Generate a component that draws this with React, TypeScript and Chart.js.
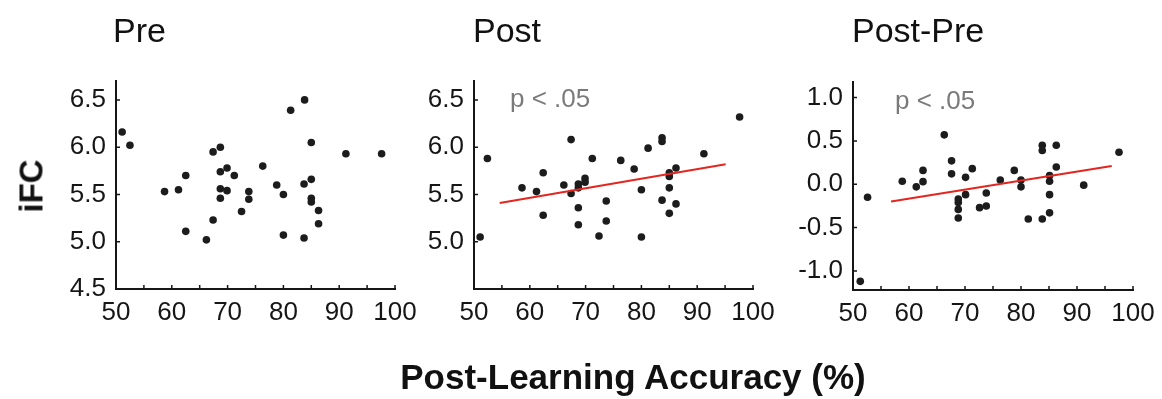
import React, { useEffect, useRef } from "react";
import { Chart, registerables } from "chart.js";

Chart.register(...registerables);

// ---- data ----
const preAccuracy = [51.1, 52.5, 58.7, 61.2, 62.5, 62.5, 66.2, 67.4, 67.4, 68.7, 68.7, 68.7, 68.7, 69.9, 69.9, 71.2, 72.5, 73.8, 73.8, 76.3, 78.8, 80.0, 80.0, 81.3, 83.8, 83.7, 83.7, 85.0, 85.0, 85.0, 85.0, 86.3, 86.3, 91.2, 97.6];
const preIFC = [6.16, 6.02, 5.53, 5.55, 5.70, 5.11, 5.02, 5.95, 5.23, 6.0, 5.74, 5.56, 5.46, 5.78, 5.54, 5.70, 5.32, 5.53, 5.45, 5.80, 5.60, 5.50, 5.07, 6.39, 6.50, 5.61, 5.04, 6.05, 5.66, 5.46, 5.42, 5.33, 5.19, 5.93, 5.93];

const postAccuracy = [51.1, 52.4, 58.6, 61.2, 62.4, 62.4, 66.1, 67.4, 67.4, 68.7, 68.7, 68.7, 68.7, 69.9, 69.9, 71.2, 72.4, 73.7, 73.7, 76.3, 78.7, 80.0, 80.0, 81.2, 83.7, 83.7, 83.7, 85.0, 85.0, 85.0, 85.0, 86.2, 86.2, 91.2, 97.6];
const postIFC = [5.05, 5.88, 5.57, 5.53, 5.73, 5.28, 5.60, 6.08, 5.51, 5.61, 5.57, 5.36, 5.18, 5.67, 5.63, 5.88, 5.06, 5.43, 5.22, 5.86, 5.77, 5.55, 5.05, 5.99, 6.10, 6.06, 5.44, 5.73, 5.69, 5.57, 5.30, 5.78, 5.40, 5.93, 6.32];

const diffAccuracy = [51.3, 52.6, 58.8, 61.3, 62.5, 62.5, 66.3, 67.6, 67.6, 68.8, 68.8, 68.8, 68.8, 70.1, 70.1, 71.3, 72.6, 73.8, 73.8, 76.3, 78.8, 80.0, 80.0, 81.3, 83.8, 83.8, 83.8, 85.1, 85.1, 85.1, 85.1, 86.3, 86.3, 91.2, 97.5];
const diffIFC = [-1.12, -0.15, 0.035, -0.03, 0.16, 0.03, 0.57, 0.27, 0.12, -0.17, -0.21, -0.29, -0.39, 0.08, -0.12, 0.18, -0.27, -0.10, -0.25, 0.05, 0.16, 0.05, -0.03, -0.40, 0.45, 0.39, -0.40, 0.10, 0.035, -0.12, -0.33, 0.45, 0.20, -0.01, 0.37];

const postFitX = [54.6, 95.1];
const postFitY = [5.41, 5.82];
const diffFitX = [56.8, 96.2];
const diffFitY = [-0.2, 0.21];

const xTickMarks = [50, 55, 60, 65, 70, 75, 80, 85, 90, 95, 100];
const xTickLabels = ["50", "60", "70", "80", "90", "100"];
const preYTicks = [4.5, 5.0, 5.5, 6.0, 6.5];
const postYTicks = [5.0, 5.5, 6.0, 6.5];
const diffYTicks = [-1.0, -0.5, 0.0, 0.5, 1.0];

const panelTitles = ["Pre", "Post", "Post-Pre"];
const pValueText = "p < .05";
const yAxisTitle = "iFC";
const xAxisTitle = "Post-Learning Accuracy (%)";

// ---- layout / style ----
const W = 1162;
const H = 399;
const Y_AXIS_W = 70;
const X_AXIS_H = 50;
const FONT = "'Liberation Sans', Arial, Helvetica, sans-serif";
const INK = "#161616";

type Area = { left: number; right: number; top: number; bottom: number };

const toPoints = (xs: number[], ys: number[]) => xs.map((x, i) => ({ x, y: ys[i] }));

const inwardTicks = {
  id: "inwardTicks",
  afterDatasetsDraw(chart: any) {
    const { ctx, chartArea, scales } = chart;
    ctx.save();
    ctx.strokeStyle = INK;
    ctx.lineWidth = 1.5;
    ctx.beginPath();
    scales.x.ticks.forEach((t: any) => {
      const px = scales.x.getPixelForValue(t.value);
      ctx.moveTo(px, chartArea.bottom);
      ctx.lineTo(px, chartArea.bottom - 4);
    });
    scales.y.ticks.forEach((t: any) => {
      const py = scales.y.getPixelForValue(t.value);
      ctx.moveTo(chartArea.left, py);
      ctx.lineTo(chartArea.left + 4, py);
    });
    ctx.stroke();
    ctx.restore();
  },
};

function buildConfig(
  area: Area,
  xs: number[],
  ys: number[],
  yTicks: number[],
  yMin: number,
  yMax: number,
  fitX: number[] | null,
  fitY: number[] | null
): any {
  const datasets: any[] = [
    {
      type: "scatter",
      data: toPoints(xs, ys),
      pointRadius: 3.8,
      pointBackgroundColor: "#1c1c1c",
      pointBorderWidth: 0,
      clip: false,
      order: 1,
    },
  ];
  if (fitX && fitY) {
    datasets.push({
      type: "line",
      data: toPoints(fitX, fitY),
      borderColor: "#e3261f",
      borderWidth: 2,
      pointRadius: 0,
      fill: false,
      order: 0,
    });
  }
  return {
    type: "scatter",
    data: { datasets },
    plugins: [inwardTicks],
    options: {
      responsive: false,
      animation: false,
      devicePixelRatio: 1,
      layout: {
        padding: {
          left: area.left - Y_AXIS_W,
          right: W - area.right,
          top: area.top,
          bottom: H - area.bottom - X_AXIS_H,
        },
      },
      plugins: { legend: { display: false }, tooltip: { enabled: false }, title: { display: false } },
      scales: {
        x: {
          type: "linear",
          min: 50,
          max: 100,
          grid: { drawOnChartArea: false, drawTicks: false },
          border: { display: true, color: INK, width: 2 },
          afterBuildTicks: (scale: any) => {
            scale.ticks = xTickMarks.map((v) => ({ value: v }));
          },
          afterFit: (scale: any) => {
            scale.height = X_AXIS_H;
            scale.paddingLeft = 0;
            scale.paddingRight = 0;
          },
          ticks: {
            autoSkip: false,
            maxRotation: 0,
            padding: 8,
            color: INK,
            font: { family: FONT, size: 26 },
            callback: (v: any) => (xTickLabels.includes(String(v)) ? String(v) : ""),
          },
        },
        y: {
          type: "linear",
          min: yMin,
          max: yMax,
          grid: { drawOnChartArea: false, drawTicks: false },
          border: { display: true, color: INK, width: 2 },
          afterBuildTicks: (scale: any) => {
            scale.ticks = yTicks.map((v) => ({ value: v }));
          },
          afterFit: (scale: any) => {
            scale.width = Y_AXIS_W;
            scale.paddingTop = 0;
            scale.paddingBottom = 0;
          },
          ticks: {
            autoSkip: false,
            padding: 10,
            color: INK,
            font: { family: FONT, size: 26 },
            callback: (v: any) => Number(v).toFixed(1),
          },
        },
      },
    },
  };
}

const PANEL_AREAS: Area[] = [
  { left: 116, right: 395, top: 81, bottom: 289 },
  { left: 474, right: 753, top: 81, bottom: 289 },
  { left: 853, right: 1133, top: 82, bottom: 290 },
];

function PanelCanvas({ config }: { config: any }) {
  const ref = useRef<HTMLCanvasElement | null>(null);
  useEffect(() => {
    if (!ref.current) return;
    const chart = new Chart(ref.current, config);
    return () => chart.destroy();
  }, [config]);
  return (
    <canvas
      ref={ref}
      width={W}
      height={H}
      style={{ position: "absolute", left: 0, top: 0, width: W, height: H }}
    />
  );
}

const configs = [
  buildConfig(PANEL_AREAS[0], preAccuracy, preIFC, preYTicks, 4.5, 6.7, null, null),
  buildConfig(PANEL_AREAS[1], postAccuracy, postIFC, postYTicks, 4.5, 6.7, postFitX, postFitY),
  buildConfig(PANEL_AREAS[2], diffAccuracy, diffIFC, diffYTicks, -1.22, 1.18, diffFitX, diffFitY),
];

const textBase: React.CSSProperties = {
  position: "absolute",
  fontFamily: FONT,
  lineHeight: 1,
  whiteSpace: "nowrap",
  margin: 0,
};

export default function App() {
  const titleLefts = [113, 473, 852];
  const pLefts = [510, 895];
  const pTops = [85, 87];
  return (
    <div style={{ position: "absolute", left: 0, top: 0, width: W, height: H, background: "#ffffff", overflow: "hidden" }}>
      {configs.map((c, i) => (
        <PanelCanvas key={i} config={c} />
      ))}
      {panelTitles.map((t, i) => (
        <div key={t} style={{ ...textBase, left: titleLefts[i], top: 13, fontSize: 34, color: "#111" }}>
          {t}
        </div>
      ))}
      {pLefts.map((l, i) => (
        <div key={i} style={{ ...textBase, left: l, top: pTops[i], fontSize: 26, color: "#7a7a7a" }}>
          {pValueText}
        </div>
      ))}
      <div
        style={{
          ...textBase,
          left: 31,
          top: 186,
          fontSize: 33,
          fontWeight: "bold",
          color: "#111",
          transform: "translate(-50%, -50%) rotate(-90deg)",
        }}
      >
        {yAxisTitle}
      </div>
      <div
        style={{
          ...textBase,
          left: 633,
          top: 359,
          fontSize: 35,
          fontWeight: "bold",
          color: "#111",
          transform: "translateX(-50%)",
        }}
      >
        {xAxisTitle}
      </div>
    </div>
  );
}
